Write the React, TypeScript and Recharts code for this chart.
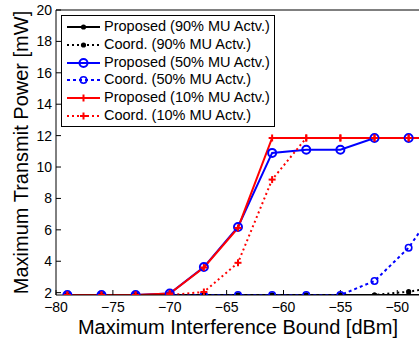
import React from 'react';
import { LineChart, Line, XAxis, YAxis, Legend } from 'recharts';

const xValues = [-79, -76, -73, -70, -67, -64, -61, -58, -55, -52, -49, -46];
const proposed90 = [1.85, 1.85, 1.85, 1.85, 1.85, 1.85, 1.85, 1.85, 1.85, 1.85, 1.85, 1.85];
const coord90 = [1.85, 1.85, 1.85, 1.85, 1.85, 1.85, 1.85, 1.85, 1.85, 1.85, 2.06, 2.4];
const proposed50 = [1.85, 1.85, 1.85, 1.95, 3.63, 6.18, 10.9, 11.1, 11.1, 11.85, 11.85, 11.85];
const coord50 = [1.85, 1.85, 1.85, 1.85, 1.85, 1.85, 1.85, 1.85, 1.85, 2.74, 4.86, 8.0];
const proposed10 = [1.85, 1.85, 1.85, 1.95, 3.6, 6.12, 11.85, 11.85, 11.85, 11.85, 11.85, 11.85];
const coord10 = [1.85, 1.85, 1.85, 1.85, 2.04, 3.9, 9.2, 11.85, 11.85, 11.85, 11.85, 11.85];

const xTicks = [-80, -75, -70, -65, -60, -55, -50];
const yTicks = [2, 4, 6, 8, 10, 12, 14, 16, 18, 20];

const data = xValues.map((x, i) => ({
  x,
  p90: proposed90[i],
  c90: coord90[i],
  p50: proposed50[i],
  c50: coord50[i],
  p10: proposed10[i],
  c10: coord10[i],
}));

type MarkerKind = 'dot' | 'circle' | 'circleThin' | 'plus';

const SERIES: { key: string; name: string; color: string; dash?: string; marker: MarkerKind }[] = [
  { key: 'p90', name: 'Proposed (90% MU Actv.)', color: '#000000', marker: 'dot' },
  { key: 'c90', name: 'Coord. (90% MU Actv.)', color: '#000000', dash: '2 3', marker: 'dot' },
  { key: 'p50', name: 'Proposed (50% MU Actv.)', color: '#0000FF', marker: 'circle' },
  { key: 'c50', name: 'Coord. (50% MU Actv.)', color: '#0000FF', dash: '3 3', marker: 'circleThin' },
  { key: 'p10', name: 'Proposed (10% MU Actv.)', color: '#FF0000', marker: 'plus' },
  { key: 'c10', name: 'Coord. (10% MU Actv.)', color: '#FF0000', dash: '2 3', marker: 'plus' },
];

const FONT = 'Liberation Sans, Arial, Helvetica, sans-serif';

const Marker = ({ kind, cx, cy, color }: { kind: MarkerKind; cx: number; cy: number; color: string }) => {
  if (kind === 'dot') return <circle cx={cx} cy={cy} r={2.6} fill={color} stroke="none" />;
  if (kind === 'circle') return <circle cx={cx} cy={cy} r={4} fill="none" stroke={color} strokeWidth={2} />;
  if (kind === 'circleThin') return <circle cx={cx} cy={cy} r={3.2} fill="none" stroke={color} strokeWidth={1.6} />;
  return (
    <g stroke={color} strokeWidth={2}>
      <line x1={cx - 3.5} x2={cx + 3.5} y1={cy} y2={cy} />
      <line x1={cx} x2={cx} y1={cy - 3.5} y2={cy + 3.5} />
    </g>
  );
};

const makeDot = (kind: MarkerKind, color: string) => (props: any) => {
  const { cx, cy, index } = props;
  if (cx == null || cy == null) return <g key={index} />;
  return <Marker key={index} kind={kind} cx={cx} cy={cy} color={color} />;
};

const fmt = (v: number) => (v < 0 ? '\u2212' + Math.abs(v) : String(v));

const LegendBox = () => (
  <div
    style={{
      border: '1px solid #000',
      background: '#fff',
      padding: '2px 3px 1px 4px',
      fontFamily: FONT,
      fontSize: 14.5,
      color: '#000',
      boxSizing: 'border-box',
      width: 214,
    }}
  >
    {SERIES.map((s) => (
      <div key={s.key} style={{ display: 'flex', alignItems: 'center', height: 17.8, whiteSpace: 'nowrap' }}>
        <svg width={38} height={18} style={{ flex: 'none' }}>
          <line x1={1} x2={34} y1={9} y2={9} stroke={s.color} strokeWidth={2} strokeDasharray={s.dash} />
          <Marker kind={s.marker} cx={17.5} cy={9} color={s.color} />
        </svg>
        <span style={{ lineHeight: '17.8px' }}>{s.name}</span>
      </div>
    ))}
  </div>
);

const XLabel = (props: any) => {
  const vb = props.viewBox;
  return (
    <text x={vb.x + vb.width / 2} y={vb.y + 38.5} textAnchor="middle" fontFamily={FONT} fontSize={20} fill="#000">
      Maximum Interference Bound [dBm]
    </text>
  );
};

const YLabel = (props: any) => {
  const vb = props.viewBox;
  const cx = vb.x + 28;
  const cy = vb.y + vb.height / 2;
  return (
    <text
      x={cx}
      y={cy}
      transform={`rotate(-90, ${cx}, ${cy})`}
      textAnchor="middle"
      fontFamily={FONT}
      fontSize={20}
      fill="#000"
    >
      Maximum Transmit Power [mW]
    </text>
  );
};

const tickStyle = { fill: '#000', fontSize: 14, fontFamily: FONT };

export default function App() {
  return (
    <div style={{ position: 'absolute', left: 0, top: 0, width: 419, height: 339, overflow: 'hidden', background: '#fff' }}>
      <LineChart width={421} height={339} data={data} margin={{ top: 0, right: 0, bottom: 0, left: 0 }}>
        <XAxis
          xAxisId={0}
          dataKey="x"
          type="number"
          domain={[-80, -48]}
          allowDataOverflow
          ticks={xTicks}
          tickFormatter={fmt}
          height={44}
          tickSize={-5}
          tickMargin={12}
          tick={tickStyle}
          stroke="#000"
          axisLine={{ stroke: '#000' }}
          tickLine={{ stroke: '#000' }}
          label={<XLabel />}
        />
        <XAxis
          xAxisId="top"
          orientation="top"
          dataKey="x"
          type="number"
          domain={[-80, -48]}
          allowDataOverflow
          ticks={xTicks}
          height={10}
          tickSize={-5}
          tick={false}
          axisLine={{ stroke: '#000' }}
          tickLine={{ stroke: '#000' }}
        />
        <YAxis
          yAxisId={0}
          type="number"
          domain={[1.85, 20]}
          allowDataOverflow
          ticks={yTicks}
          width={56}
          tickSize={-5}
          tickMargin={9}
          tick={tickStyle}
          axisLine={{ stroke: '#000' }}
          tickLine={{ stroke: '#000' }}
          label={<YLabel />}
        />
        <YAxis
          yAxisId="right"
          orientation="right"
          type="number"
          domain={[1.85, 20]}
          allowDataOverflow
          ticks={yTicks}
          width={1}
          tickSize={-5}
          tick={false}
          axisLine={{ stroke: '#000' }}
          tickLine={{ stroke: '#000' }}
        />
        {SERIES.map((s) => (
          <Line
            key={s.key}
            dataKey={s.key}
            name={s.name}
            type="linear"
            stroke={s.color}
            strokeWidth={2}
            strokeDasharray={s.dash}
            dot={makeDot(s.marker, s.color)}
            activeDot={false}
            isAnimationActive={false}
          />
        ))}
        <Legend
          layout="vertical"
          align="center"
          verticalAlign="middle"
          wrapperStyle={{ left: 61, top: 15, width: 214, height: 110 }}
          content={<LegendBox />}
        />
      </LineChart>
    </div>
  );
}
